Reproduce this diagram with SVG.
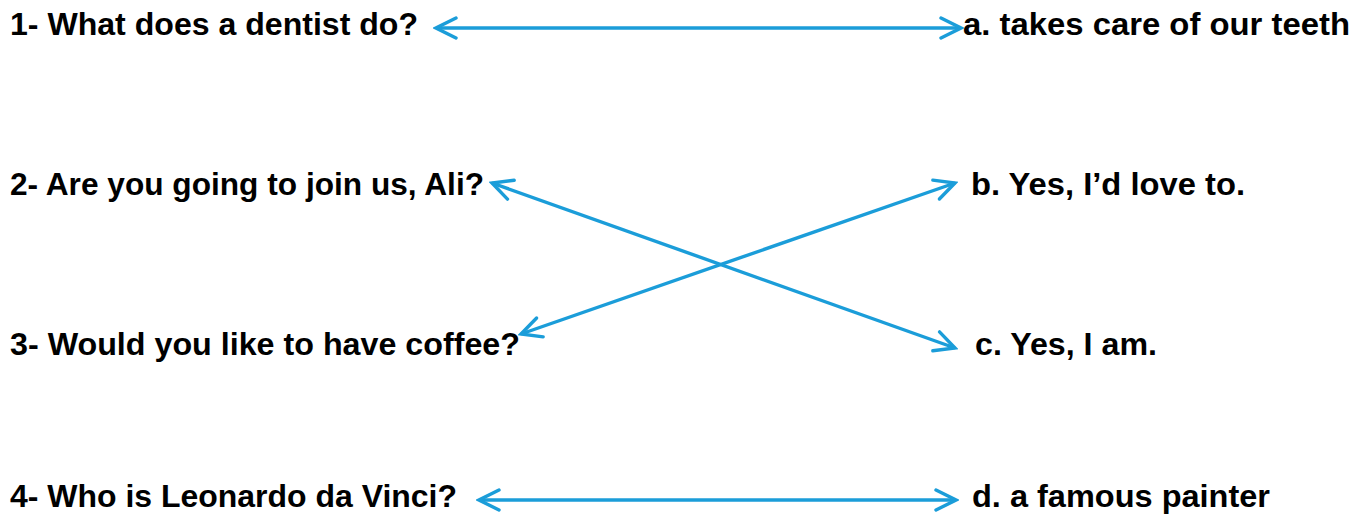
<svg xmlns="http://www.w3.org/2000/svg" width="1362" height="517" viewBox="0 0 1362 517">
<style>
text{font-family:"Liberation Sans",Arial,sans-serif;font-weight:bold;font-size:32px;fill:#000}
.c{stroke:#1b9dd9;stroke-width:3.4;fill:none}
</style>
<defs>
<marker id="ah" viewBox="0 0 26 26" refX="23" refY="13" markerWidth="26" markerHeight="26" markerUnits="userSpaceOnUse" orient="auto-start-reverse">
<path d="M3,3 L23,13 L3,23" fill="none" stroke="#1b9dd9" stroke-width="3.4" stroke-linecap="round" stroke-linejoin="miter"/>
</marker>
</defs>
<rect width="1362" height="517" fill="#fff"/>
<g id="q1"><text x="10" y="35" textLength="408" lengthAdjust="spacingAndGlyphs">1- What does a dentist do?</text></g>
<g id="q2"><text x="10" y="195" textLength="474" lengthAdjust="spacingAndGlyphs">2- Are you going to join us, Ali?</text></g>
<g id="q3"><text x="10" y="355" textLength="510" lengthAdjust="spacingAndGlyphs">3- Would you like to have coffee?</text></g>
<g id="q4"><text x="10" y="507" textLength="447" lengthAdjust="spacingAndGlyphs">4- Who is Leonardo da Vinci?</text></g>
<g id="a"><text x="963" y="35" textLength="387" lengthAdjust="spacingAndGlyphs">a. takes care of our teeth</text></g>
<g id="b"><text x="971" y="195" textLength="274" lengthAdjust="spacingAndGlyphs">b. Yes, I’d love to.</text></g>
<g id="c"><text x="975" y="355" textLength="182" lengthAdjust="spacingAndGlyphs">c. Yes, I am.</text></g>
<g id="d"><text x="972" y="507" textLength="298" lengthAdjust="spacingAndGlyphs">d. a famous painter</text></g>
<g id="connectors">
<line class="c" x1="436" y1="28" x2="961" y2="28" marker-start="url(#ah)" marker-end="url(#ah)"/>
<line class="c" x1="492" y1="183" x2="955" y2="348" marker-start="url(#ah)" marker-end="url(#ah)"/>
<line class="c" x1="521" y1="334" x2="955" y2="183" marker-start="url(#ah)" marker-end="url(#ah)"/>
<line class="c" x1="479" y1="500" x2="956" y2="500" marker-start="url(#ah)" marker-end="url(#ah)"/>
</g>
</svg>
